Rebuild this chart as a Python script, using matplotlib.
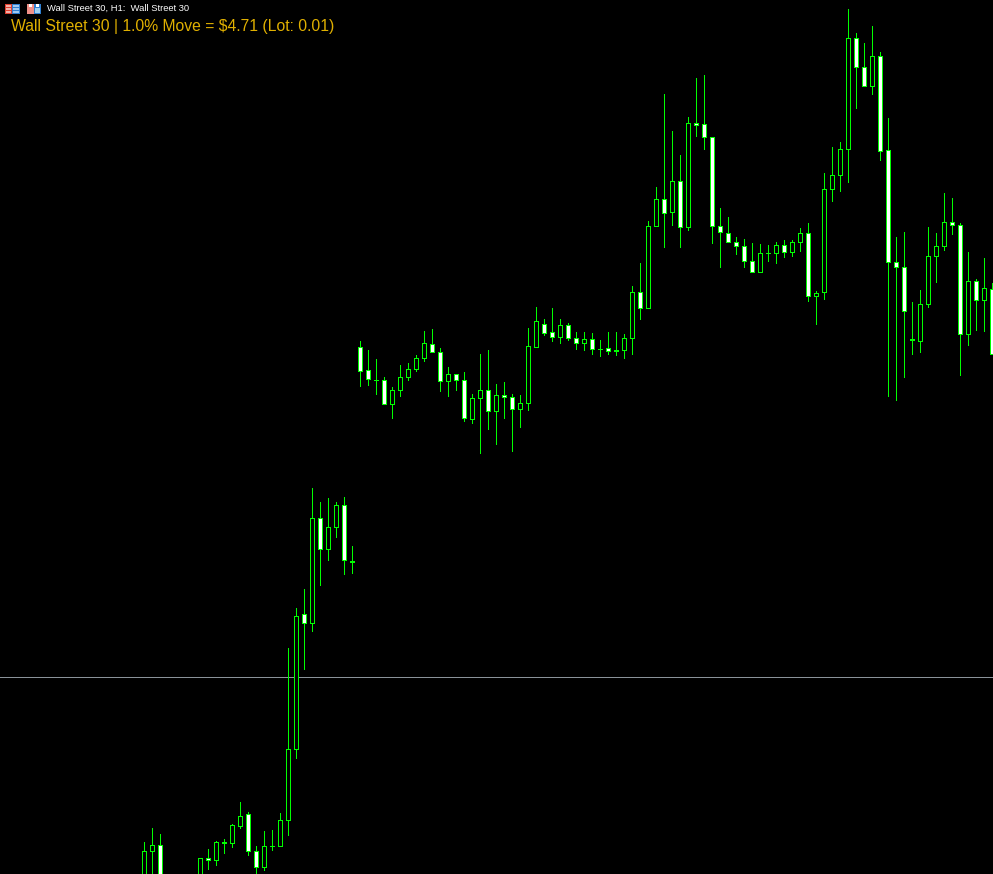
import matplotlib
matplotlib.use("Agg")
import matplotlib.pyplot as plt
from matplotlib.patches import Rectangle

WIDTH = 993
HEIGHT = 874
FIRST_BAR_PX = 144.0
BAR_STEP_PX = 8
GREEN = "#00ff00"
LW = 0.72

TITLE = "Wall Street 30, H1:  Wall Street 30"
LABEL = "Wall Street 30 | 1.0% Move = $4.71 (Lot: 0.01)"
HLINE_LEVEL = 677.3

# chart levels, counted downwards from the top edge
# one entry per H1 bar, the ones at 168-192 px are below the visible area
bar_high = [842.3, 828.3, 834.3, 880, 885, 885, 880, 858.3, 849.3, 841.3, 839.3, 824.3,
            802, 812.3, 846.3, 831, 830, 813, 648.3, 608.3, 589, 488, 502.3, 498.3, 502.3,
            497.3, 546, 341.3, 350.3, 359.3, 377.3, 387.3, 365.3, 363.3, 355.3, 331.3,
            329.3, 348.3, 367.3, 374.3, 372.3, 394.3, 354.3, 350.3, 384.3, 382.3, 394.3,
            395.3, 328, 307.3, 319.3, 308.3, 319.3, 323.3, 332.3, 332.3, 333.3, 340.3,
            332.3, 332.3, 334.3, 286.3, 263.3, 221.3, 187, 94, 131.3, 155.3, 117.3, 78.3,
            75, 137.3, 208.3, 217.3, 237.3, 239.3, 243.3, 244.3, 245.3, 242.3, 240.3,
            240.3, 228.3, 223.3, 291.3, 173.3, 147.3, 142.3, 9.3, 33.3, 43.3, 26.3, 52.3,
            118.3, 237.3, 232.3, 302.3, 290.3, 227.3, 233.3, 193.3, 198.3, 223.3, 252.3,
            279.3, 258.3, 283.3]
bar_top = [851.3, 845.3, 845.3, 885, 890, 890, 885, 858.3, 858.3, 842.3, 842.3, 825.3,
           816.3, 814.3, 851.3, 846.3, 846.3, 820.3, 749.3, 616.3, 614.3, 518.3, 518.3,
           527.3, 505.3, 505.3, 561.3, 347.3, 370.3, 380.3, 380.3, 390.3, 377.3, 369.3,
           358.3, 343.3, 344.3, 352.3, 374.3, 374.3, 380.3, 398.3, 390.3, 390.3, 395.3,
           395.3, 397.3, 403.3, 346.3, 321.3, 324.3, 332.3, 325.3, 325.3, 338.3, 339.3,
           339.3, 349.3, 348.3, 350.3, 338.3, 292.3, 292.3, 226.3, 199.3, 199.3, 181.3,
           181.3, 123.3, 123.3, 124.3, 137.3, 226.3, 233.3, 242.3, 246.3, 261.3, 253.3,
           253.3, 245.3, 245.3, 242.3, 233.3, 233.3, 293.3, 189.3, 175.3, 149.3, 38.3,
           38.3, 67.3, 56.3, 56.3, 150.3, 262.3, 267.3, 339.3, 304.3, 256.3, 246.3, 222.3,
           222.3, 225.3, 281.3, 281.3, 288.3, 289.3]
bar_bottom = [880, 851.3, 885, 890, 895, 895, 890, 880, 860.3, 860.3, 843.3, 843.3,
              826.3, 851.3, 867.3, 867.3, 846.3, 846.3, 820.3, 749.3, 623.3, 623.3, 549.3,
              549.3, 527.3, 560.3, 562.3, 371.3, 379.3, 380.3, 404.3, 404.3, 390.3, 377.3,
              369.3, 358.3, 352.3, 381.3, 381.3, 380.3, 418.3, 419.3, 398.3, 411.3, 411.3,
              397.3, 409.3, 409.3, 403.3, 347.3, 332.7, 337.3, 337.3, 338.3, 343.3, 343.3,
              349.3, 349.3, 351.3, 351.3, 350.3, 338.3, 308.3, 308.3, 226.3, 213.3, 212.3,
              227.3, 227.3, 125.3, 137.3, 226.3, 232.3, 242.3, 246.3, 261.3, 272.3, 272.3,
              253.3, 253.3, 252.3, 252.3, 242.3, 296.3, 296.3, 292.3, 189.3, 175.3, 149.3,
              67.3, 86.3, 86.3, 151.3, 262.3, 267.3, 311.3, 340.3, 341.3, 304.3, 256.3,
              246.3, 225.3, 334.3, 334.3, 300.3, 300.3, 354.3]
bar_low = [885, 872.7, 890, 895, 900, 900, 895, 885, 869, 865, 852.7, 846.7, 827.7,
           854.7, 874, 869.7, 849.7, 846.3, 835, 758, 669, 631, 585, 560, 536.7, 574, 573,
           386, 385, 394, 404.3, 418, 396, 380, 371, 361, 352.3, 391, 396, 390, 421, 423,
           453, 429, 444, 418, 451, 427, 410, 347.3, 335, 341, 343, 340, 349, 350, 354,
           356, 354, 355, 358, 354, 319, 308.3, 226.3, 246.7, 225, 246.7, 229.7, 135.7,
           148.7, 242.7, 266.7, 242.3, 254, 266.7, 272.3, 272.3, 260.7, 262.7, 256.7,
           255.7, 251, 300.7, 324, 298.7, 201, 190.7, 181.7, 107.7, 86.3, 94, 160, 396,
           400, 377, 354, 352, 307, 282, 250, 234, 375, 345, 330, 331, 354.3]
# True where the picture shows a filled (white) body
bar_filled = [False, False, True, False, False, False, False, False, True, False, True,
              False, False, True, True, False, True, False, False, False, True, False,
              True, False, False, True, True, True, True, True, True, False, False, False,
              False, False, True, True, False, True, True, False, False, True, False,
              True, True, False, False, False, True, True, False, True, True, False, True,
              True, True, True, False, False, True, False, False, True, False, True, False,
              True, True, True, True, True, True, True, True, False, True, False, True,
              False, False, True, False, False, False, False, False, True, True, False,
              True, True, True, True, True, False, False, False, False, True, True, False,
              True, False, True]

n_bars = len(bar_high)
x = list(range(n_bars))

fig = plt.figure(figsize=(WIDTH / 100, HEIGHT / 100), dpi=100, facecolor="black")
ax = fig.add_axes([0, 0, 1, 1])
ax.set_facecolor("black")
ax.set_xlim(-FIRST_BAR_PX / BAR_STEP_PX, (WIDTH - FIRST_BAR_PX) / BAR_STEP_PX)
ax.set_ylim(HEIGHT, 0)
ax.axis("off")

ax.axhline(HLINE_LEVEL, color="#8a9299", lw=LW, zorder=1)

# wicks as single lines so they snap to whole pixels
for xi, hi, lo in zip(x, bar_high, bar_low):
    ax.plot([xi, xi], [hi, lo], color=GREEN, lw=LW, antialiased=False, snap=True,
            solid_capstyle="butt", zorder=2)

# bodies, white for filled bars and black for hollow ones
heights = [b - t for t, b in zip(bar_top, bar_bottom)]
faces = ["white" if f else "black" for f in bar_filled]
ax.bar(x, heights, bottom=bar_top, width=0.5, color=faces, edgecolor=GREEN,
       linewidth=LW, antialiased=False, zorder=3)


def px_rect(px, py, w, h, color):
    fig.add_artist(Rectangle((px / WIDTH, 1 - (py + h) / HEIGHT), w / WIDTH, h / HEIGHT,
                             facecolor=color, edgecolor="none", antialiased=False))


# window icons, table on the left and floppy on the right
px_rect(5, 4, 15, 10, "#e04030")
px_rect(12, 4, 8, 10, "#2f7fd0")
for row in (5, 8, 11):
    px_rect(6, row, 5, 2, "#f0b0a8")
    px_rect(13, row, 6, 2, "#a0c8f0")
px_rect(27, 4, 7, 10, "#f09088")
px_rect(34, 4, 7, 10, "#2f7fd0")
px_rect(29, 4, 3, 3, "white")
px_rect(36, 4, 3, 3, "white")
px_rect(35, 8, 5, 5, "#a0d0f0")

fig.text(47 / WIDTH, 1 - 8 / HEIGHT, TITLE, color="white", fontsize=6.73,
         family="Liberation Sans", va="center", ha="left")
fig.text(11 / WIDTH, 1 - 27 / HEIGHT, LABEL, color="#e0b000", fontsize=11.33,
         family="Liberation Sans", va="center", ha="left")

fig.savefig("out.png", dpi=100, facecolor="black")
